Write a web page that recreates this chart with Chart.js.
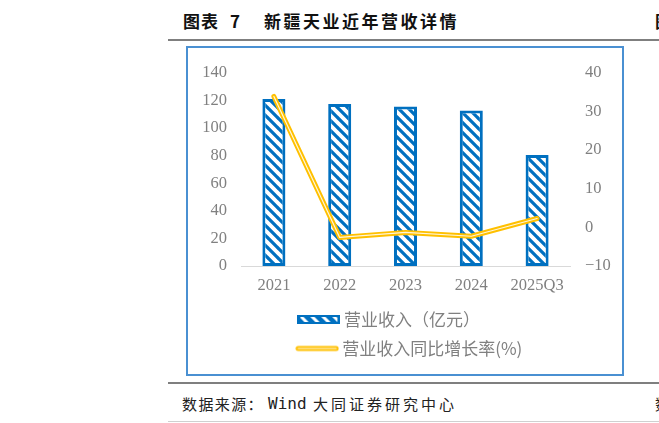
<!DOCTYPE html>
<html>
<head>
<meta charset="utf-8">
<script src="https://cdn.jsdelivr.net/npm/chart.js@4.4.1/dist/chart.umd.min.js"></script>
<style>
  html, body { margin:0; padding:0; background:#fff; }
  body { width:659px; height:423px; position:relative; overflow:hidden; }
  .t { position:absolute; font-family:"Noto Sans CJK SC", sans-serif; white-space:nowrap; }
  .hr { position:absolute; left:168px; width:491px; }
</style>
</head>
<body>
<div class="t" style="left:183px;top:8px;font-size:17px;font-weight:700;color:#111;letter-spacing:1px;">图表</div>
<div class="t" style="left:230px;top:8px;font-size:17px;font-weight:700;color:#111;">7</div>
<div class="t" style="left:264px;top:8px;font-size:17px;font-weight:700;color:#111;letter-spacing:2.5px;">新疆天业近年营收详情</div>
<div class="t" style="left:655px;top:8px;font-size:17px;font-weight:700;color:#111;">图</div>
<div class="hr" style="top:39px;height:2px;background:#7f7f7f;"></div>
<div style="position:absolute;left:186px;top:46px;width:438px;height:330px;border:2px solid #4a90d2;box-sizing:border-box;"></div>
<div style="position:absolute;left:188px;top:48px;width:435px;height:326px;">
  <canvas id="c"></canvas>
</div>
<div class="hr" style="top:382px;height:2px;background:#7f7f7f;"></div>
<div class="t" style="left:182px;top:393px;font-size:15px;color:#222;letter-spacing:1.4px;">数据来源：</div>
<div class="t" style="left:268px;top:394px;font-size:16px;color:#222;font-family:'DejaVu Sans Mono',monospace;">Wind</div>
<div class="t" style="left:313px;top:393px;font-size:15px;color:#222;letter-spacing:3px;">大同证券研究中心</div>
<div class="t" style="left:655px;top:393px;font-size:15px;color:#222;">数</div>
<div class="hr" style="top:421px;height:1px;background:#d0d0d0;"></div>

<script>
// ---- data ----
const categories = ['2021', '2022', '2023', '2024', '2025Q3'];
const revenue = [121.0, 117.5, 115.6, 112.8, 80.5];      // 营业收入（亿元）
const growth = [33.9, -2.6, -1.3, -2.3, 2.3];            // 营业收入同比增长率(%)
const seriesNames = ['营业收入（亿元）', '营业收入同比增长率(%)'];
const leftAxis = { min: 0, max: 140, step: 20 };
const rightAxis = { min: -10, max: 40, step: 10 };

const BLUE = '#0070C0';
const YELLOW = '#FFC000';
const GRAY = '#808080';

function makeHatch() {
  const s = 10;
  const c = document.createElement('canvas');
  c.width = s; c.height = s;
  const x = c.getContext('2d');
  x.fillStyle = '#fff';
  x.fillRect(0, 0, s, s);
  x.strokeStyle = BLUE;
  x.lineWidth = 3.2;
  x.beginPath();
  for (let k = -1; k <= 1; k++) {
    x.moveTo(-1, k * s - 1);
    x.lineTo(s + 1, s + k * s + 1);
  }
  x.stroke();
  return x.createPattern(c, 'repeat');
}

function barIcon() {
  const c = document.createElement('canvas');
  c.width = 43; c.height = 9;
  const x = c.getContext('2d');
  x.fillStyle = BLUE;
  x.fillRect(0, 0, 43, 9);
  x.save();
  x.beginPath();
  x.rect(3, 2, 37, 5);
  x.clip();
  x.strokeStyle = '#fff';
  x.lineWidth = 3;
  x.beginPath();
  for (let i = 0; i < 5; i++) {
    const x0 = 2 + i * 11;
    x.moveTo(x0, 0);
    x.lineTo(x0 + 9, 9);
  }
  x.stroke();
  x.restore();
  return c;
}

function lineIcon() {
  const c = document.createElement('canvas');
  c.width = 44; c.height = 8;
  const x = c.getContext('2d');
  x.lineCap = 'round';
  x.strokeStyle = YELLOW;
  x.lineWidth = 5;
  x.beginPath(); x.moveTo(3, 4); x.lineTo(41, 4); x.stroke();
  x.strokeStyle = 'rgba(255,255,255,0.9)';
  x.lineWidth = 1.2;
  x.beginPath(); x.moveTo(3, 4); x.lineTo(41, 4); x.stroke();
  return c;
}

const ctx = document.getElementById('c').getContext('2d');
const hatch = makeHatch();
const icons = [barIcon(), lineIcon()];
const padLabels = [seriesNames[0] + '　　    ', seriesNames[1]];

new Chart(ctx, {
  type: 'bar',
  data: {
    labels: categories,
    datasets: [
      {
        type: 'line',
        label: seriesNames[1] + '_inner',
        data: growth,
        yAxisID: 'y1',
        borderColor: 'rgba(255,255,255,0.85)',
        borderWidth: 1.2,
        pointRadius: 0,
        tension: 0,
        borderJoinStyle: 'round',
        borderCapStyle: 'round',
        order: 1
      },
      {
        type: 'line',
        label: seriesNames[1],
        data: growth,
        yAxisID: 'y1',
        borderColor: YELLOW,
        borderWidth: 5,
        pointRadius: 0,
        tension: 0,
        borderJoinStyle: 'round',
        borderCapStyle: 'round',
        order: 2
      },
      {
        type: 'bar',
        label: seriesNames[0],
        data: revenue,
        yAxisID: 'y',
        backgroundColor: hatch,
        borderColor: BLUE,
        borderWidth: 3,
        borderSkipped: false,
        categoryPercentage: 1,
        barPercentage: 0.35,
        order: 3
      }
    ]
  },
  options: {
    responsive: true,
    maintainAspectRatio: false,
    animation: false,
    devicePixelRatio: 1,
    layout: { padding: { left: 12, right: 0, top: 21, bottom: 7 } },
    plugins: {
      tooltip: { enabled: false },
      legend: {
        position: 'bottom',
        align: 'center',
        labels: {
          usePointStyle: true,
          pointStyleWidth: 33,
          padding: 12,
          color: GRAY,
          font: { family: '"Noto Sans CJK SC", sans-serif', size: 17 },
          generateLabels: function(chart) {
            return [
              { text: padLabels[0], pointStyle: icons[0], datasetIndex: 2, hidden: false, fontColor: GRAY, lineWidth: 0 },
              { text: padLabels[1], pointStyle: icons[1], datasetIndex: 1, hidden: false, fontColor: GRAY, lineWidth: 0 }
            ];
          }
        }
      }
    },
    scales: {
      x: {
        grid: { display: false, drawTicks: false },
        border: { display: true, color: '#d9d9d9', width: 1 },
        ticks: {
          color: GRAY, padding: 10, maxRotation: 0,
          font: { family: '"Liberation Serif", serif', size: 16.5 }
        },
        afterFit: s => { s.height = 33; }
      },
      y: {
        position: 'left',
        min: leftAxis.min, max: leftAxis.max,
        grid: { display: false, drawTicks: false },
        border: { display: false },
        ticks: {
          stepSize: leftAxis.step, color: GRAY, padding: 14,
          font: { family: '"Liberation Serif", serif', size: 16.5 }
        },
        afterFit: s => { s.width = 41; }
      },
      y1: {
        position: 'right',
        min: rightAxis.min, max: rightAxis.max,
        grid: { display: false, drawTicks: false },
        border: { display: false },
        ticks: {
          stepSize: rightAxis.step, color: GRAY, padding: 15,
          font: { family: '"Liberation Serif", serif', size: 16.5 },
          callback: v => String(v).replace('-', '\u2212')
        },
        afterFit: s => { s.width = 53; }
      }
    }
  }
});
</script>
</body>
</html>
